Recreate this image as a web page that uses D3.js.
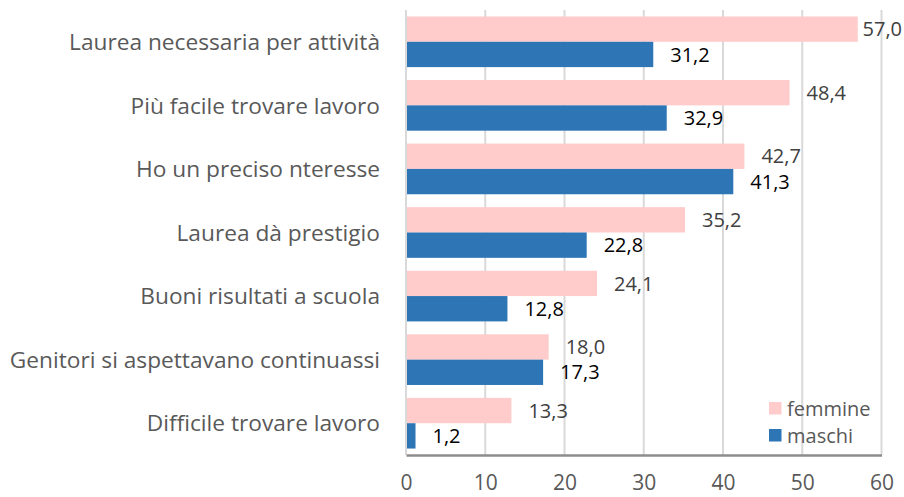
<!DOCTYPE html>
<html>
<head>
<meta charset="utf-8">
<script src="https://cdn.jsdelivr.net/npm/d3@7"></script>
<style>
  html, body { margin: 0; padding: 0; background: #ffffff; }
  svg { display: block; }
  text { font-family: "Open Sans", "Noto Sans", sans-serif; }
</style>
</head>
<body>
<svg id="chart" width="904" height="497"></svg>
<script>
const categories = [
  "Laurea necessaria per attività",
  "Più facile trovare lavoro",
  "Ho un preciso nteresse",
  "Laurea dà prestigio",
  "Buoni risultati a scuola",
  "Genitori si aspettavano continuassi",
  "Difficile trovare lavoro"
];
const femmine = [57.0, 48.4, 42.7, 35.2, 24.1, 18.0, 13.3];
const maschi  = [31.2, 32.9, 41.3, 22.8, 12.8, 17.3, 1.2];
const seriesNames = ["femmine", "maschi"];
const xTicks = [0, 10, 20, 30, 40, 50, 60];

const colors = { femmine: "#FFCBCB", maschi: "#2E75B6" };
const W = 904, H = 497;
const mLeft = 406, mRight = 881.5, mTop = 10, mBottom = 455;

const svg = d3.select("#chart");
const x = d3.scaleLinear().domain([0, 60]).range([mLeft, mRight]);
const y0 = d3.scaleBand().domain(categories).range([mTop, mBottom]).paddingInner(0).paddingOuter(0);
const y1 = d3.scaleBand().domain(seriesNames).range([0, y0.bandwidth()]).paddingInner(0).paddingOuter(0.255);

// gridlines
svg.append("g").selectAll("line").data(xTicks).join("line")
  .attr("x1", d => x(d)).attr("x2", d => x(d))
  .attr("y1", mTop).attr("y2", mBottom)
  .attr("stroke", "#D9D9D9").attr("stroke-width", 2);

const fmt = v => v.toFixed(1).replace(".", ",");

const data = categories.map((c, i) => ({ cat: c, femmine: femmine[i], maschi: maschi[i] }));

const groups = svg.append("g").selectAll("g").data(data).join("g")
  .attr("transform", d => `translate(0,${y0(d.cat)})`);

groups.selectAll("rect").data(d => seriesNames.map(s => ({ s, v: d[s] }))).join("rect")
  .attr("x", x(0))
  .attr("y", d => y1(d.s))
  .attr("width", d => x(d.v) - x(0))
  .attr("height", y1.bandwidth())
  .attr("fill", d => colors[d.s]);

groups.selectAll("text.val").data(d => seriesNames.map(s => ({ s, v: d[s] }))).join("text")
  .attr("class", "val")
  .attr("x", d => x(d.v) + 17)
  .attr("y", d => y1(d.s) + y1.bandwidth() / 2)
  .attr("dy", "0.36em")
  .attr("font-size", 20)
  .attr("fill", d => d.s === "femmine" ? "#404040" : "#000000")
  .text(d => fmt(d.v))
  .each(function() {
    const w = this.getComputedTextLength();
    const xx = +this.getAttribute("x");
    if (xx + w > W - 2) this.setAttribute("x", W - 2 - w);
  });

// left axis line
svg.append("line").attr("x1", x(0)).attr("x2", x(0)).attr("y1", mTop).attr("y2", mBottom)
  .attr("stroke", "#D9D9D9").attr("stroke-width", 2);

// bottom axis
const xAxis = svg.append("g").attr("transform", `translate(0,${mBottom})`)
  .call(d3.axisBottom(x).tickValues(xTicks).tickSize(0).tickPadding(0).tickFormat(d3.format("d")));
xAxis.select(".domain").attr("stroke", "#8C8C8C").attr("stroke-width", 2.5);
xAxis.selectAll("text").attr("font-size", 21).attr("fill", "#595959")
  .attr("font-family", "\"Open Sans\", sans-serif").attr("y", 35).attr("dy", 0);

// category labels
svg.append("g").selectAll("text").data(categories).join("text")
  .attr("x", 380)
  .attr("y", d => y0(d) + y0.bandwidth() / 2)
  .attr("dy", "0.36em")
  .attr("text-anchor", "end")
  .attr("font-size", 22.7)
  .attr("fill", "#595959")
  .text(d => d);

// legend
const legend = svg.append("g").attr("transform", "translate(769,402)");
const li = legend.selectAll("g").data(seriesNames).join("g")
  .attr("transform", (d, i) => `translate(0,${i * 27})`);
li.append("rect").attr("width", 12.5).attr("height", 12.5).attr("fill", d => colors[d]);
li.append("text").attr("x", 18).attr("y", 6.5).attr("dy", "0.36em")
  .attr("font-size", 20).attr("fill", "#595959").text(d => d);
</script>
</body>
</html>
